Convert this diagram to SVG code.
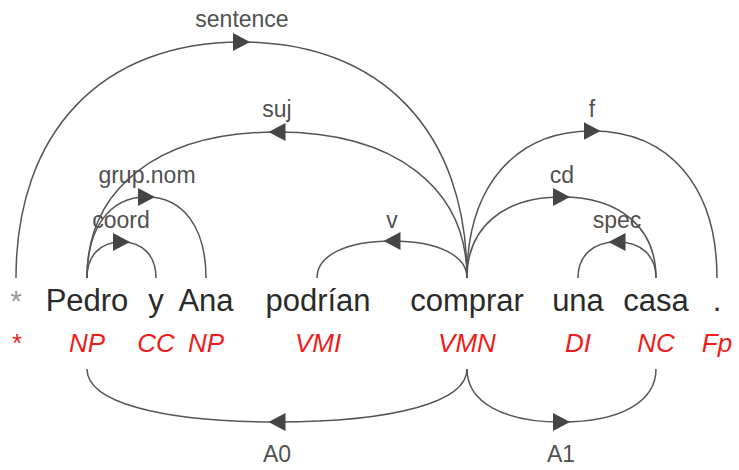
<svg xmlns="http://www.w3.org/2000/svg" width="739" height="470" viewBox="0 0 739 470">
<style>
.w{font-family:"Liberation Sans",Arial,sans-serif;font-size:31px;fill:#2a2a2a;text-anchor:middle}
.t{font-family:"Liberation Sans",Arial,sans-serif;font-size:26px;font-style:italic;fill:#f01c1c;text-anchor:middle}
.ast{font-family:"Liberation Sans",Arial,sans-serif;font-size:30px;fill:#9a9a9a;text-anchor:middle}
.l{font-family:"Liberation Sans",Arial,sans-serif;font-size:23px;fill:#505050;text-anchor:middle}
.a{fill:none;stroke:#555;stroke-width:1.5;marker-mid:url(#arr)}
</style>
<defs>
<marker id="arr" viewBox="0 0 17 18" refX="8.5" refY="9" markerWidth="17" markerHeight="18" markerUnits="userSpaceOnUse" orient="auto">
<path d="M0,0 L17,9 L0,18 Z" fill="#454545"/>
</marker>
</defs>
<g id="connectors">
<g id="e-sentence"><path class="a" d="M16,278 C16,131.7 101.7,42 241.5,42 C381.3,42 467,131.7 467,278"/><text class="l" x="242" y="27">sentence</text></g>
<g id="e-suj"><path class="a" d="M467,278 C467,187.5 394.8,132 277,132 C159.2,132 87,187.5 87,278"/><text class="l" x="277" y="117">suj</text></g>
<g id="e-grupnom"><path class="a" d="M87,278 C87,227.8 109.6,197 146.5,197 C183.4,197 206,227.8 206,278"/><text class="l" x="147" y="183">grup.nom</text></g>
<g id="e-coord"><path class="a" d="M87,278 C87,255.7 100.1,242 121.5,242 C142.9,242 156,255.7 156,278"/><text class="l" x="121" y="228">coord</text></g>
<g id="e-v"><path class="a" d="M467,278 C467,255.7 438.5,241 392,241 C345.5,241 317,255.7 317,278"/><text class="l" x="392" y="228">v</text></g>
<g id="e-f"><path class="a" d="M467,278 C467,186.9 514.5,131 592,131 C669.5,131 717,186.9 717,278"/><text class="l" x="592" y="117">f</text></g>
<g id="e-cd"><path class="a" d="M467,278 C467,227.8 502.9,197 561.5,197 C620.1,197 656,227.8 656,278"/><text class="l" x="562" y="183">cd</text></g>
<g id="e-spec"><path class="a" d="M656,278 C656,255.7 641.2,242 617,242 C592.8,242 578,255.7 578,278"/><text class="l" x="617" y="228">spec</text></g>
<g id="e-A0"><path class="a" d="M467,369 C467,401.9 394.8,422 277,422 C159.2,422 87,401.9 87,369"/><text class="l" x="277" y="462">A0</text></g>
<g id="e-A1"><path class="a" d="M467,369 C467,401.9 502.9,422 561.5,422 C620.1,422 656,401.9 656,369"/><text class="l" x="561" y="462">A1</text></g>
</g>
<g id="root"><text class="ast" x="16" y="311">*</text><text class="t" x="17" y="352" style="font-style:normal">*</text></g>
<g id="w-Pedro"><text class="w" x="87" y="311">Pedro</text><text class="t" x="87" y="352">NP</text></g>
<g id="w-y"><text class="w" x="156" y="311">y</text><text class="t" x="156" y="352">CC</text></g>
<g id="w-Ana"><text class="w" x="206" y="311">Ana</text><text class="t" x="206" y="352">NP</text></g>
<g id="w-podrian"><text class="w" x="318" y="311">podrían</text><text class="t" x="318" y="352">VMI</text></g>
<g id="w-comprar"><text class="w" x="467" y="311">comprar</text><text class="t" x="467" y="352">VMN</text></g>
<g id="w-una"><text class="w" x="578" y="311">una</text><text class="t" x="578" y="352">DI</text></g>
<g id="w-casa"><text class="w" x="656" y="311">casa</text><text class="t" x="656" y="352">NC</text></g>
<g id="w-dot"><text class="w" x="717" y="311">.</text><text class="t" x="717" y="352">Fp</text></g>
</svg>
